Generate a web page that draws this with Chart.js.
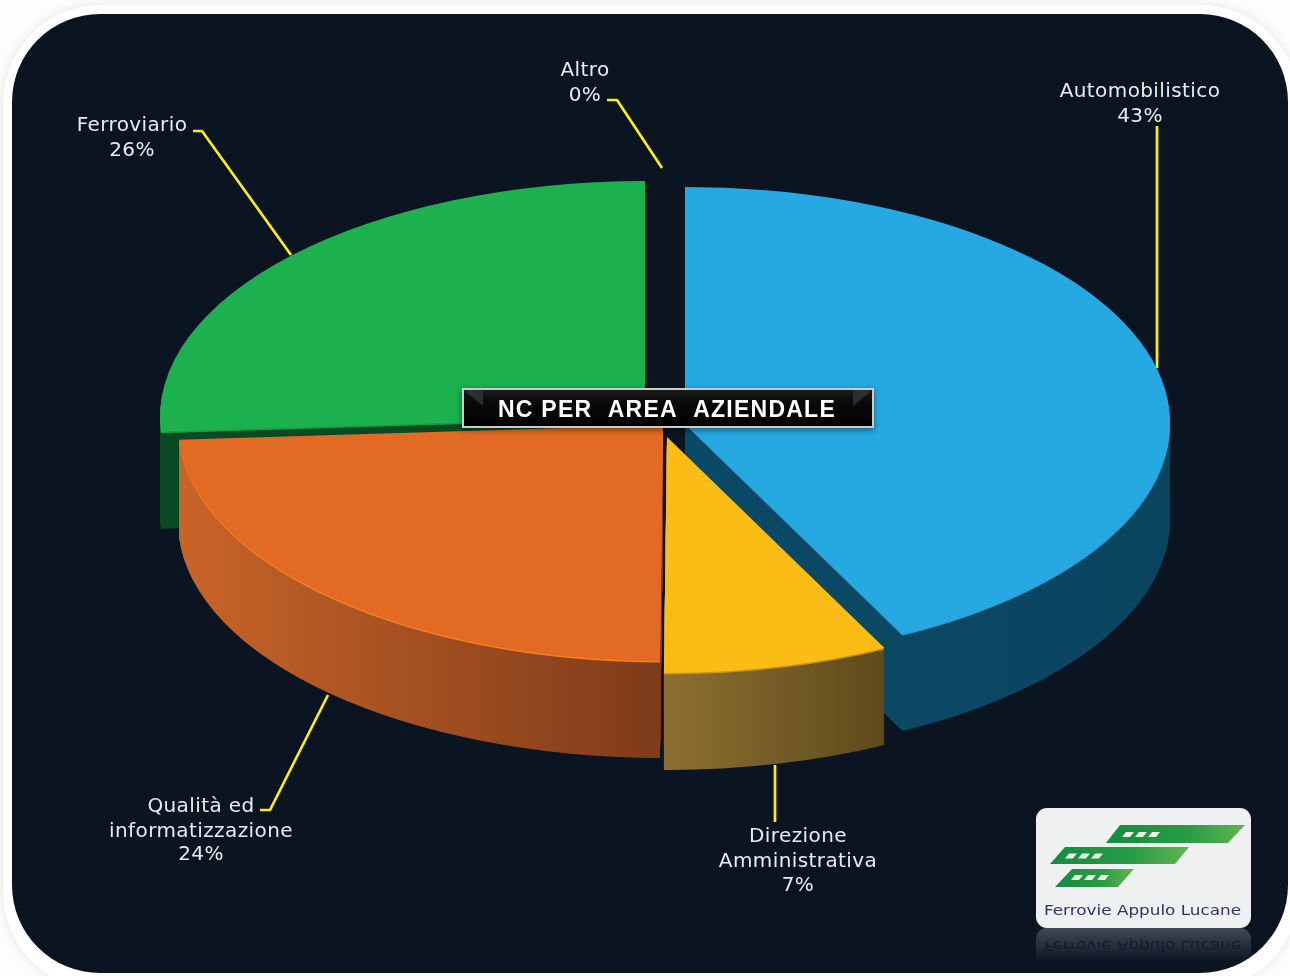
<!DOCTYPE html>
<html><head><meta charset="utf-8">
<style>
html,body{margin:0;padding:0;width:1290px;height:976px;overflow:hidden;background:#fdfdfd}
#ring{position:absolute;left:3px;top:5px;width:1296px;height:985px;background:#fff;border-radius:98px;box-shadow:0 0 12px rgba(0,0,0,.10)}
#panel{position:absolute;left:12px;top:14px;width:1276px;height:959px;background:#0b1522;border-radius:88px}
canvas{position:absolute;left:0;top:0}
svg{position:absolute;left:0;top:0}
</style></head><body>
<div id="ring"></div><div id="panel"></div>
<canvas id="c" width="1290" height="976"></canvas>
<svg width="1290" height="976" viewBox="0 0 1290 976">
<defs>
<linearGradient id="gr" x1="0" x2="1"><stop offset="0" stop-color="#128c3e"/><stop offset=".6" stop-color="#2a9c46"/><stop offset="1" stop-color="#62b552"/></linearGradient>
<linearGradient id="fade" x1="0" x2="0" y1="0" y2="1"><stop offset="0" stop-color="#fff" stop-opacity=".42"/><stop offset=".7" stop-color="#fff" stop-opacity=".12"/><stop offset="1" stop-color="#fff" stop-opacity="0"/></linearGradient>
<mask id="m"><rect x="1030" y="928" width="230" height="34" fill="url(#fade)"/></mask>
<g id="logoText"><text x="1044" y="915" font-family="DejaVu Sans" font-size="14" textLength="197" lengthAdjust="spacingAndGlyphs" fill="#2c3766">Ferrovie Appulo Lucane</text></g>
</defs>
<rect x="1036" y="808" width="215" height="120" rx="11" fill="#eff0f2"/>
<polygon points="1106,843 1120,825 1245,825 1228,843" fill="url(#gr)"/>
<polygon points="1050,864 1065,847 1189,847 1175,864" fill="url(#gr)"/>
<polygon points="1055,887 1072,869 1134,869 1118,887" fill="url(#gr)"/>
<g fill="#eef2e4">
<polygon points="1122,837 1126,832 1134,832 1130,837"/><polygon points="1135,837 1139,832 1147,832 1143,837"/><polygon points="1148,837 1152,832 1160,832 1156,837"/>
<polygon points="1065,858.5 1069,853.5 1077,853.5 1073,858.5"/><polygon points="1078,858.5 1082,853.5 1090,853.5 1086,858.5"/><polygon points="1091,858.5 1095,853.5 1103,853.5 1099,858.5"/>
<polygon points="1071,880 1075,875 1083,875 1079,880"/><polygon points="1084,880 1088,875 1096,875 1092,880"/><polygon points="1097,880 1101,875 1109,875 1105,880"/>
</g>
<use href="#logoText"/>
<g mask="url(#m)"><g transform="translate(0,1856) scale(1,-1)">
<rect x="1036" y="808" width="215" height="120" rx="11" fill="#8f969e"/>
<use href="#logoText"/>
</g></g>
</svg>
<script src="https://cdn.jsdelivr.net/npm/chart.js@4"></script>
<script>
const categories = ['Automobilistico','Direzione Amministrativa','Qualità ed informatizzazione','Ferroviario','Altro'];
const shares = [42.6, 7.5, 23.9, 26, 0];
const topColors = ['#26a9e3','#fbbd15','#e36a24','#1db04e','#888888'];
const rimColors = ['#2f9fd2','#c9951a','#f5801f','#1a9c45','#888888'];
const sideStart = ['#0a4a66','#8d7030','#c96428','#0a4a22','#888888'];
const sideEnd   = ['#0a4560','#5f4a1c','#7d3b1a','#0a4a22','#888888'];
const labelLines = [['Automobilistico','43%'],['Direzione','Amministrativa','7%'],['Qualità ed','informatizzazione','24%'],['Ferroviario','26%'],['Altro','0%']];
const chartTitle = 'NC PER  AREA  AZIENDALE';

const layout = {
  baseX:665, baseY:425, squash:0.4866, radius:485, depth:97,
  explodeX:[20,2,-2,-20,0], explodeY:[-2,12,0,-8,0],
  labelX:[1140,798,201,132,585],
  labelY:[[92,117],[837,862,886],[807,832,855],[126,151],[71,96]],
  leaders:[
    [[1157,126],[1157,368]],
    [[775,765],[775,822]],
    [[260,810],[270,810],[328,695]],
    [[193,131],[202,131],[291,255]],
    [[607,100],[617,100],[662,168]]
  ]
};

function withSlice(ctx, arc, i, dy, fn){
  ctx.save();
  ctx.translate(layout.baseX+layout.explodeX[i], layout.baseY+layout.explodeY[i]+dy);
  ctx.scale(1, layout.squash);
  ctx.translate(-arc.x,-arc.y);
  fn();
  ctx.restore();
}
function paintArc(ctx, arc, fill){
  const p = Object.create(arc);
  p.options = Object.assign({}, arc.options, {backgroundColor:fill, borderWidth:0, borderColor:'rgba(0,0,0,0)'});
  Chart.elements.ArcElement.prototype.draw.call(p, ctx);
}
const pie3d = {
  id:'pie3d',
  beforeDatasetsDraw(chart){
    const ctx = chart.ctx, arcs = chart.getDatasetMeta(0).data;
    const order = [3,0,2,1];
    ctx.save();
    ctx.strokeStyle='#ffec10'; ctx.lineWidth=2.7; ctx.lineJoin='round';
    layout.leaders.forEach(pts=>{
      ctx.beginPath();
      pts.forEach((q,k)=>k?ctx.lineTo(q[0],q[1]):ctx.moveTo(q[0],q[1]));
      ctx.stroke();
    });
    order.forEach(i=>{
      const arc = arcs[i];
      const cx = arc.x, r = layout.radius;
      const a0 = arc.startAngle, a1 = arc.endAngle;
      const xs = [Math.cos(a0),Math.cos(a1)];
      if (a0<Math.PI && a1>Math.PI) xs.push(-1);
      if (a0<0 && a1>0) xs.push(1);
      const gx0 = Math.min(0,...xs)*r+cx, gx1 = Math.max(0,...xs)*r+cx;
      const g = ctx.createLinearGradient(gx0,0,gx1,0);
      g.addColorStop(0,sideStart[i]); g.addColorStop(1,sideEnd[i]);
      for(let d=layout.depth; d>=1; d--){
        withSlice(ctx,arc,i,d,()=>paintArc(ctx,arc,g));
      }
      withSlice(ctx,arc,i,1.5,()=>paintArc(ctx,arc,rimColors[i]));
      withSlice(ctx,arc,i,0,()=>paintArc(ctx,arc,topColors[i]));
    });
    ctx.restore();
    return false;
  },
  afterDraw(chart){
    const ctx = chart.ctx;
    ctx.save();
    ctx.fillStyle='#e9ecee';
    ctx.font='20px "DejaVu Sans"';
    ctx.letterSpacing='0.4px';
    ctx.textAlign='center'; ctx.textBaseline='middle';
    labelLines.forEach((ls,i)=>ls.forEach((t,k)=>ctx.fillText(t,layout.labelX[i],layout.labelY[i][k])));
    const x=463,y=389,w=410,h=38;
    ctx.shadowColor='rgba(0,0,0,.45)'; ctx.shadowBlur=6; ctx.shadowOffsetY=2;
    ctx.fillStyle='#c8cccf'; ctx.fillRect(x-1,y-1,w+2,h+2);
    ctx.shadowColor='transparent'; ctx.shadowBlur=0; ctx.shadowOffsetY=0;
    const g=ctx.createLinearGradient(0,y,0,y+h);
    g.addColorStop(0,'#1c1c1c'); g.addColorStop(.35,'#0a0a0a'); g.addColorStop(1,'#000');
    ctx.fillStyle=g; ctx.fillRect(x+1,y+1,w-2,h-2);
    ctx.fillStyle='#2b2d2f';
    ctx.beginPath(); ctx.moveTo(x+1,y+1); ctx.lineTo(x+20,y+1); ctx.lineTo(x+20,y+17); ctx.closePath(); ctx.fill();
    ctx.beginPath(); ctx.moveTo(x+w-1,y+1); ctx.lineTo(x+w-20,y+1); ctx.lineTo(x+w-20,y+17); ctx.closePath(); ctx.fill();
    ctx.fillStyle='#fff';
    ctx.font='bold 23px "Liberation Sans"';
    ctx.letterSpacing='1.25px';
    ctx.fillText(chartTitle,667,410.5);
    ctx.restore();
  }
};
new Chart(document.getElementById('c'),{
  type:'pie',
  data:{labels:categories,datasets:[{data:shares,backgroundColor:topColors,borderWidth:0}]},
  options:{
    responsive:false,animation:false,radius:layout.radius,
    layout:{padding:0},
    plugins:{legend:{display:false},title:{display:false},tooltip:{enabled:false}}
  },
  plugins:[pie3d]
});
</script>
</body></html>
